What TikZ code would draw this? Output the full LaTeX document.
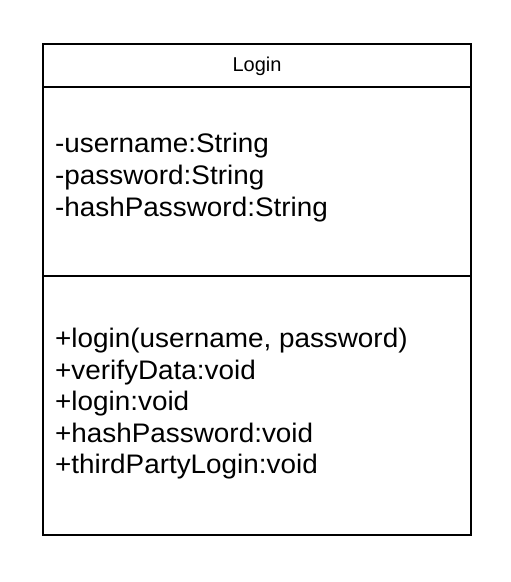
\documentclass[tikz,border=0pt]{standalone}
\usepackage{fontspec}
\setmainfont{Liberation Sans}
\newcommand{\widetext}[1]{\scalebox{1.04}[1]{#1}}
\begin{document}
\begin{tikzpicture}[x=1pt,y=-1pt,
  boxline/.style={draw=black,line width=2pt},
  titletext/.style={inner sep=0pt,anchor=base,font=\fontsize{20}{24}\selectfont},
  membertext/.style={inner sep=0pt,anchor=base west,font=\fontsize{26.8}{32}\selectfont}]
\useasboundingbox (0,0) rectangle (511,582);
\draw[boxline] (43,44) rectangle (471,535);
\draw[boxline] (43,87) -- (471,87);
\draw[boxline] (43,276) -- (471,276);
\node[titletext] (title) at (257,71.5) {Login};
\node[membertext] (a1) at (55,152.5) {\widetext{-username:String}};
\node[membertext] (a2) at (55,184.5) {\widetext{-password:String}};
\node[membertext] (a3) at (55,216.5) {\widetext{-hashPassword:String}};
\node[membertext] (m1) at (55,347.5) {\widetext{+login(username, password)}};
\node[membertext] (m2) at (55,379) {\widetext{+verifyData:void}};
\node[membertext] (m3) at (55,410.5) {\widetext{+login:void}};
\node[membertext] (m4) at (55,442) {\widetext{+hashPassword:void}};
\node[membertext] (m5) at (55,473.5) {\widetext{+thirdPartyLogin:void}};
\end{tikzpicture}
\end{document}
